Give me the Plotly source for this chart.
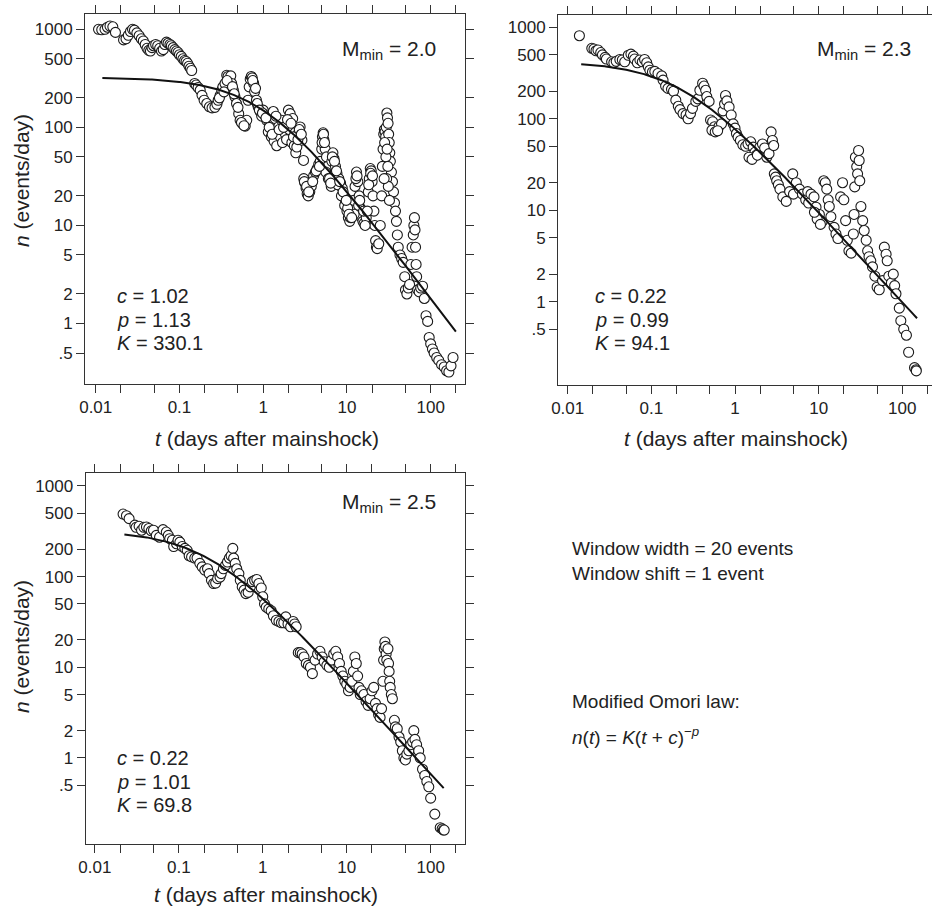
import numpy as np
import plotly.graph_objects as go

W, H = 932, 906
FONT = "Liberation Sans, Arial, Helvetica, sans-serif"
INK = "#222222"
FRAME = "#333333"

# ---------------- sliding-window aftershock rates ----------------
# M_min = 2.0
t_20 = [0.0108, 0.0118, 0.0129, 0.0138, 0.0148, 0.016, 0.0172,
        0.0215, 0.023, 0.0245, 0.026, 0.0275, 0.029, 0.031, 0.033, 0.035, 0.037,
        0.039, 0.041, 0.043, 0.045, 0.047, 0.049, 0.052, 0.055, 0.058, 0.061,
        0.064, 0.067, 0.070, 0.073, 0.077, 0.080, 0.084, 0.088, 0.092, 0.096,
        0.100, 0.105, 0.110, 0.115, 0.120, 0.125, 0.130, 0.135, 0.140,
        0.152, 0.158, 0.167, 0.177, 0.186, 0.197, 0.212, 0.228, 0.245, 0.265,
        0.28, 0.29, 0.306, 0.32, 0.33, 0.35, 0.367, 0.38, 0.40, 0.41,
        0.42, 0.44, 0.46, 0.48, 0.51, 0.53, 0.57, 0.61, 0.636, 0.66,
        0.68, 0.70, 0.72, 0.74, 0.77, 0.79, 0.83, 0.87, 0.92, 0.96,
        1.0, 1.05, 1.10, 1.15, 1.2, 1.25, 1.32, 1.35, 1.39, 1.45,
        1.52, 1.6, 1.66, 1.7, 1.82, 1.9, 2.0, 2.05, 2.1, 2.2,
        2.25, 2.35, 2.4, 2.45, 2.52, 2.64, 2.76, 2.9, 3.03,
        3.05, 3.15, 3.25, 3.35, 3.45, 3.6, 3.75, 4.0, 4.2, 4.4,
        4.6, 4.8, 5.0, 5.1, 5.2, 5.3, 5.5, 5.7, 5.9, 6.1,
        6.3, 6.5, 6.6, 6.8, 7.0, 7.3, 7.6, 8.0, 8.4, 8.8,
        9.2, 9.6, 10.0, 10.4, 10.8, 11.2, 11.6, 12.0, 12.5, 13.0,
        13.5, 14, 14.5, 15, 15.5, 16, 17, 18, 18.5, 19,
        19.5, 20, 20.5, 21, 21.5, 22, 22.5, 23, 24, 25,
        5.6, 6.0, 6.9, 7.8, 8.6, 9.4, 10.2, 11.0, 12.2, 13.8, 15.8, 16.5, 17.5,
        26, 26.5, 27, 27.5, 28, 28.5, 29, 29.5, 30, 30.5,
        31, 31.5, 32, 32.5, 33, 34, 35, 36, 37, 38,
        39, 40, 41, 43, 45, 47, 49, 50, 52, 54,
        56, 58, 60, 62, 63, 64, 65, 66, 67, 68,
        70, 73, 76, 80, 84, 88, 92, 96, 100, 105,
        110, 118, 125, 135, 145, 155, 165, 175, 185,
        28.2, 29.2, 29.8, 30.2, 30.8, 31.2, 27.8, 32.2,
        0.30, 0.34, 0.37, 0.43, 0.45, 0.5, 0.55, 0.59, 0.75, 0.81,
        0.85, 0.9, 0.98, 1.08, 1.18, 1.28, 1.42, 1.55, 1.75, 1.95,
        2.15, 2.3, 2.6, 2.7, 2.85, 3.1, 3.3, 3.5, 3.9, 4.3,
        4.7, 5.05, 5.25, 5.4, 6.2, 6.4, 6.7, 7.1, 7.5, 8.2,
        9.0, 9.8, 10.6, 11.4, 12.8, 13.2, 14.2, 18.2, 19.2, 20.2]
n_20 = [1000, 990, 1000, 1050, 1080, 1060, 930,
        780, 800, 870, 950, 1000, 980, 920, 860, 800, 760,
        700, 640, 610, 600, 650, 680, 700, 680, 640, 600,
        620, 700, 740, 720, 700, 680, 650, 620, 600, 580,
        550, 530, 500, 480, 470, 450, 420, 400, 380,
        280, 270, 255, 240, 212, 189, 175, 162, 158, 160,
        172, 189, 212, 240, 259, 280, 340, 330, 303, 335,
        280, 240, 205, 175, 138, 118, 108, 103, 118, 189,
        259, 310, 330, 320, 280, 232, 189, 162, 145, 130,
        150, 132, 118, 90, 108, 80, 145, 72, 123, 65,
        101, 80, 118, 70, 87, 75, 150, 95, 138, 70,
        123, 65, 88, 55, 63, 87, 101, 74, 46,
        30, 27, 24, 21, 20, 22, 25, 32, 35, 38,
        42, 45, 60, 80, 88, 75, 60, 50, 40, 33,
        28, 25, 45, 55, 48, 40, 34, 30, 27, 24,
        20, 17, 14, 12, 11, 13, 15, 18, 25, 35,
        28, 20, 15, 12, 11, 10.5, 12, 22, 30, 38,
        36, 28, 20, 14, 10, 7, 6, 5.8, 6.5, 10,
        35, 30, 32, 26, 20, 16, 15, 12, 13, 16, 14, 10, 14,
        20, 40, 60, 85, 95, 90, 80, 100, 140, 125,
        110, 85, 70, 55, 45, 35, 28, 22, 17, 14,
        11, 8, 6, 5, 4.6, 4.2, 3, 2.2, 2.0, 2.3,
        2.5, 4, 6, 8, 10, 12, 9, 6, 4, 3,
        2.2, 2.1, 2.3, 2.4, 1.8, 1.2, 1.05, 0.72, 0.62, 0.55,
        0.5, 0.45, 0.42, 0.38, 0.36, 0.33, 0.32, 0.37, 0.45,
        70, 50, 30, 60, 40, 25, 30, 18,
        200, 230, 300, 260, 220, 160, 112, 104, 300, 250,
        175, 150, 140, 125, 100, 85, 130, 95, 100, 120,
        110, 80, 75, 95, 85, 28, 25, 22, 28, 36,
        40, 70, 85, 70, 30, 27, 50, 45, 36, 28,
        22, 18, 13, 12, 30, 32, 18, 26, 34, 32]

# M_min = 2.3
t_23 = [0.0138,
        0.0194, 0.0206, 0.0218, 0.023, 0.0248, 0.026, 0.028, 0.029, 0.0335, 0.0356,
        0.038, 0.042, 0.045, 0.048, 0.053, 0.057, 0.061, 0.063, 0.068, 0.073,
        0.078, 0.083, 0.088, 0.092, 0.096, 0.103, 0.110, 0.12, 0.133, 0.138,
        0.148, 0.158, 0.174, 0.184, 0.196, 0.21, 0.22, 0.239, 0.26, 0.275,
        0.294, 0.31, 0.34, 0.36, 0.38, 0.41, 0.426, 0.446, 0.46, 0.49,
        0.51, 0.54, 0.57, 0.61, 0.64, 0.69, 0.72, 0.75, 0.77, 0.80,
        0.85, 0.90, 0.95, 1.0, 1.04, 1.09, 1.16, 1.24, 1.34, 1.43,
        1.54, 1.65, 1.73, 1.80, 1.9, 1.98, 2.13, 2.26, 2.4, 2.55,
        2.7, 2.8, 2.9,
        2.95, 3.05, 3.15, 3.3, 3.45, 3.73, 4.1, 4.5, 5.0, 4.9,
        5.4, 5.9, 6.4, 7.0, 7.6, 7.4, 8.1, 8.8, 9.3, 10.2,
        11, 11.5, 12, 12.5, 13, 13.4, 14, 15.3, 16.1, 17,
        18.3, 19.3, 20, 21, 22, 23, 24.5, 26, 26.5, 27,
        27.5, 28.5, 29.2, 30, 30.5, 31, 32, 33.6, 35, 37,
        38.5, 40, 42, 44, 47, 50, 53, 58, 61, 64,
        66, 69, 74, 78, 81, 84, 92, 96, 104, 112,
        119, 140, 146, 147,
        0.53, 0.58, 0.62, 1.47, 1.6, 1.85, 9.6, 10.5, 8.9]
n_23 = [810,
        590, 580, 555, 565, 530, 500, 470, 450, 420, 410,
        425, 445, 440, 420, 495, 510, 485, 450, 410, 440,
        420, 445, 410, 370, 340, 325, 330, 313, 295, 265,
        228, 215, 210, 200, 160, 137, 126, 114, 110, 100,
        114, 130, 155, 165, 205, 245, 228, 205, 175, 155,
        97, 93, 82, 76, 82, 88, 122, 145, 180, 157,
        135, 110, 88, 79, 69, 63, 58, 52, 50, 53,
        56, 49, 43, 40, 41.6, 49, 53, 48, 38, 41.6,
        72, 58, 51,
        25, 23, 21, 19, 17, 14, 12.5, 16, 15, 25,
        20, 17, 15, 13, 12, 16, 15, 14, 10.8, 9,
        7.5, 21, 20, 17, 13, 11, 8.5, 6.5, 5.5, 4.9,
        14, 20, 13, 7.7, 4.7, 3.6, 3.4, 5.5, 9, 18,
        38, 30, 25, 45, 35, 21, 11, 7.7, 6, 4.7,
        3.6, 3.1, 2.8, 2.4, 1.9, 1.44, 1.35, 1.7, 3.95, 3.3,
        2.8, 1.9, 1.6, 2.0, 1.5, 1.22, 0.85, 0.62, 0.5, 0.43,
        0.28, 0.19, 0.18, 0.175,
        75, 72, 74, 38, 36, 40, 8, 7, 9.5]

# M_min = 2.5
t_25 = [0.0217, 0.0238, 0.0256, 0.030, 0.031, 0.0337, 0.036, 0.0383, 0.0412, 0.044,
        0.047, 0.050, 0.054, 0.059, 0.065, 0.071, 0.075, 0.078, 0.084, 0.087,
        0.094, 0.098, 0.103, 0.110, 0.118, 0.126, 0.133, 0.142, 0.155, 0.165,
        0.178, 0.19, 0.204, 0.22, 0.23, 0.245, 0.26, 0.275, 0.29, 0.31,
        0.32, 0.34, 0.36, 0.38, 0.40, 0.42, 0.44, 0.45, 0.47, 0.49,
        0.52, 0.54, 0.57, 0.60, 0.63, 0.67, 0.71, 0.75, 0.80, 0.85,
        0.90, 0.96, 1.0, 1.05, 1.10, 1.18, 1.26, 1.34, 1.45, 1.56,
        1.67, 1.78, 1.88, 2.0, 2.15, 2.3, 2.4, 2.5,
        2.65, 2.8, 2.95, 3.1, 3.3, 3.5, 3.7, 3.9, 4.2, 4.5,
        4.8, 5.1, 5.4, 5.8, 6.2, 6.6, 7.0, 7.4, 7.8, 8.2,
        8.6, 9.0, 9.5, 10, 10.5, 11, 11.5, 12, 12.5, 13,
        13.5, 14, 14.5, 15, 16, 17, 18, 19, 20, 21,
        22, 23, 24, 25, 26, 27, 27.5, 28, 28.5, 29,
        29.5, 30, 31, 31.5, 32, 32.5, 33, 34, 35, 37,
        38, 40, 42, 44, 46, 48, 50, 52, 55, 58,
        61, 63, 65, 68, 72, 75, 80, 85, 90, 95,
        100, 112, 130, 137, 142, 145]
n_25 = [490, 470, 436, 370, 350, 360, 325, 350, 353, 340,
        320, 325, 285, 272, 330, 310, 285, 262, 252, 215,
        230, 252, 240, 215, 205, 195, 170, 165, 160, 160,
        140, 128, 118, 122, 108, 91, 84, 85, 95, 99,
        108, 122, 133, 145, 160, 170, 205, 160, 140, 122,
        108, 91, 77, 71, 65, 67, 77, 88, 91, 93,
        84, 75, 60, 50, 46, 44, 42, 37, 33, 32,
        31, 31, 36, 30, 28, 32, 30, 28,
        14.5, 14.5, 14, 13, 11, 10.5, 10, 8.5, 12, 14,
        15, 13, 11.5, 10.5, 10, 12, 14, 15, 13, 11,
        9, 8, 7, 6.5, 5.5, 6, 7, 9, 13, 11,
        8, 6, 5, 5.5, 5, 4.2, 3.8, 4.5, 5.5, 6,
        4, 3.5, 3, 2.8, 3.5, 7, 12, 16, 19, 17,
        14, 12, 16, 11, 9, 7, 6, 5, 4.5, 2.6,
        2.2, 2.1, 1.7, 1.5, 1.2, 1.0, 0.95, 1.1, 1.2, 1.4,
        1.5, 2.0, 1.6, 1.4, 1.2, 1.0, 0.75, 0.64, 0.55, 0.48,
        0.36, 0.24, 0.17, 0.165, 0.16, 0.16]

# Modified Omori law fits n(t) = K (t + c)^-p
panels = [
    dict(t=t_20, n=n_20, mmin="2.0", c=1.02, p=1.13, K=330.1, t_fit=(0.012, 200),
         xdom=(85, 465), ydom=(14, 384), xr=(-2.128, 2.41), yr=(-0.617, 3.156),
         ytitle_y=181, xtitle=(267, 438), mirror_y="ticks",
         mmin_xy=(438, 50), par_xy=(115, 296)),
    dict(t=t_23, n=n_23, mmin="2.3", c=0.22, p=0.99, K=94.1, t_fit=(0.0145, 150),
         xdom=(558, 932), ydom=(15, 385), xr=(-2.116, 2.355), yr=(-0.911, 3.135),
         ytitle_y=None, xtitle=(736, 438), mirror_y=False,
         mmin_xy=(913, 50), par_xy=(593, 296)),
    dict(t=t_25, n=n_25, mmin="2.5", c=0.22, p=1.01, K=69.8, t_fit=(0.0225, 143),
         xdom=(85.5, 465), ydom=(473, 843.5), xr=(-2.111, 2.409), yr=(-0.944, 3.143),
         ytitle_y=647, xtitle=(266, 894), mirror_y="ticks",
         mmin_xy=(438, 503), par_xy=(115, 758)),
]

x_major = [0.01, 0.1, 1, 10, 100]
x_major_labels = ["0.01", "0.1", "1", "10", "100"]
x_minor = [0.02, 0.05, 0.2, 0.5, 2, 5, 20, 50, 200]
y_ticks = [0.5, 1, 2, 5, 10, 20, 50, 100, 200, 500, 1000]
y_labels = [".5", "1", "2", "5", "10", "20", "50", "100", "200", "500", "1000"]


def px(x):
    return x / W


def py(y):
    return 1 - y / H


def note(text, x, y, size, **kw):
    d = dict(text=text, xref="paper", yref="paper", x=px(x), y=py(y),
             xanchor="left", yanchor="middle", showarrow=False,
             font=dict(family=FONT, size=size, color=INK))
    d.update(kw)
    return d


fig = go.Figure()
annotations = []

for i, pnl in enumerate(panels, start=1):
    xa = "x" if i == 1 else f"x{i}"
    ya = "y" if i == 1 else f"y{i}"

    fig.add_trace(go.Scatter(
        x=pnl["t"], y=pnl["n"], mode="markers", xaxis=xa, yaxis=ya,
        marker=dict(symbol="circle", size=10, color="white",
                    line=dict(color="#1a1a1a", width=1.1)),
        showlegend=False, hoverinfo="x+y"))

    tf = np.logspace(np.log10(pnl["t_fit"][0]), np.log10(pnl["t_fit"][1]), 300)
    nf = pnl["K"] * (tf + pnl["c"]) ** (-pnl["p"])
    fig.add_trace(go.Scatter(
        x=tf, y=nf, mode="lines", xaxis=xa, yaxis=ya,
        line=dict(color="#111111", width=2), showlegend=False, hoverinfo="skip"))

    axis_common = dict(
        type="log", showgrid=False, zeroline=False, showline=True,
        linecolor=FRAME, linewidth=1, ticks="outside", ticklen=8,
        tickcolor=FRAME, tickwidth=1, automargin=False,
        tickfont=dict(family=FONT, size=17, color=INK))

    xkey = "xaxis" if i == 1 else f"xaxis{i}"
    ykey = "yaxis" if i == 1 else f"yaxis{i}"
    fig.update_layout({
        xkey: dict(axis_common,
                   domain=[px(pnl["xdom"][0]), px(pnl["xdom"][1])],
                   range=list(pnl["xr"]), anchor=ya, mirror="ticks",
                   tickmode="array", tickvals=x_major, ticktext=x_major_labels,
                   minor=dict(tickmode="array", tickvals=x_minor, ticks="outside",
                              ticklen=8, tickcolor=FRAME, tickwidth=1,
                              showgrid=False)),
        ykey: dict(axis_common,
                   domain=[py(pnl["ydom"][1]), py(pnl["ydom"][0])],
                   range=list(pnl["yr"]), anchor=xa, mirror=pnl["mirror_y"],
                   tickmode="array", tickvals=y_ticks, ticktext=y_labels),
    })

    # Axis titles
    annotations.append(note("<i>t</i> (days after mainshock)", pnl["xtitle"][0],
                            pnl["xtitle"][1], 21, xanchor="center"))
    if pnl["ytitle_y"] is not None:
        annotations.append(note("<i>n</i> (events/day)", 21, pnl["ytitle_y"], 21,
                                xanchor="center", textangle=-90))

    # Magnitude threshold label (upper right of the panel)
    annotations.append(note(f"M<sub>min</sub> = {pnl['mmin']}", pnl["mmin_xy"][0],
                            pnl["mmin_xy"][1], 21, xanchor="right"))

    # Fitted parameters (lower left)
    left, base = pnl["par_xy"]
    for k, (name, val) in enumerate([("c", f"{pnl['c']:.2f}"),
                                     ("p", f"{pnl['p']:.2f}"),
                                     ("K", f"{pnl['K']:.1f}")]):
        annotations.append(note(f"<i>{name}</i> = {val}", left, base + 23.5 * k, 20))

# Notes on the analysis, lower right
annotations += [
    note("Window width = 20 events", 570, 548, 19),
    note("Window shift = 1 event", 570, 573, 19),
    note("Modified Omori law:", 570, 701, 19),
    note("<i>n</i>(<i>t</i>) = <i>K</i>(<i>t</i> + <i>c</i>)<sup>\u2212<i>p</i></sup>",
         570, 736, 19),
]

fig.update_layout(
    width=W, height=H, margin=dict(l=0, r=0, t=0, b=0),
    paper_bgcolor="white", plot_bgcolor="white",
    font=dict(family=FONT, color=INK),
    annotations=annotations, showlegend=False)

fig.write_html("out.html")
